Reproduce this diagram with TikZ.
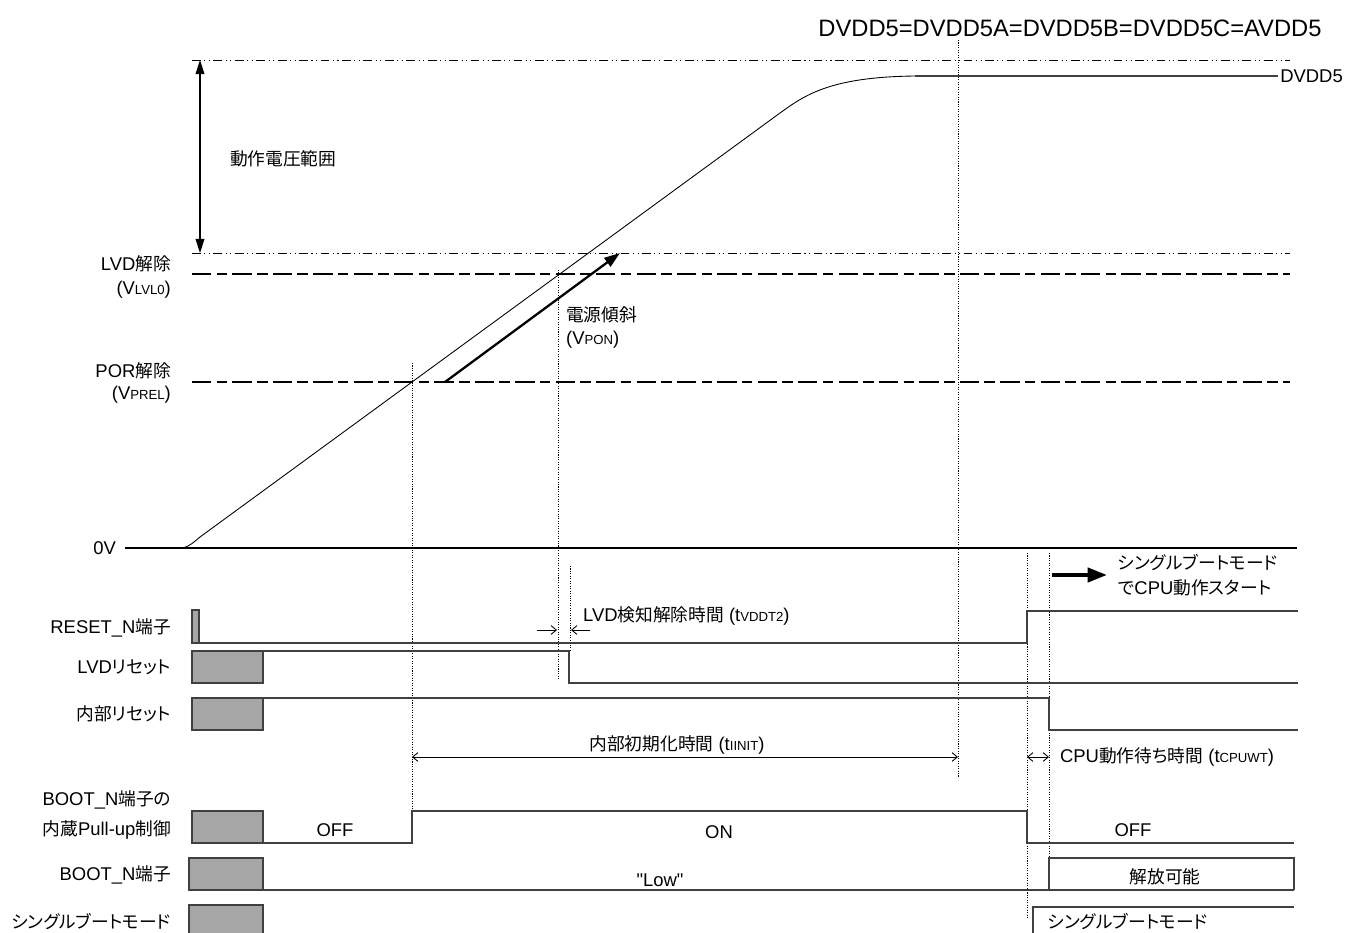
\documentclass[tikz,border=0pt]{standalone}
\usepackage{fontspec}
\setmainfont[Ligatures=TeXOff]{Liberation Sans}
\newfontfamily\jp[RawFeature=+palt,Scale=0.96]{Noto Sans CJK JP}
\usepackage{tikz}
\usetikzlibrary{arrows.meta,calc,positioning}
\definecolor{sig}{gray}{0.25}
\definecolor{boxgray}{gray}{0.65}
\newcommand{\sml}[1]{{\fontsize{7.5}{8}\selectfont #1}}

\begin{document}
\begin{tikzpicture}[x=0.02cm,y=-0.02cm,
        every node/.style={font=\fontsize{10.5}{12}\selectfont, inner sep=1pt},
        lab/.style={anchor=east},
        sigline/.style={draw=sig, line width=0.6pt},
        unk/.style={draw=sig, fill=boxgray, line width=0.6pt},
        dotline/.style={line width=0.4pt, dash pattern=on 0.6pt off 0.8pt},
        level/.style={line width=0.6pt, dash pattern=on 11pt off 3pt on 6pt off 3pt},
        dashdot/.style={line width=0.5pt, dash pattern=on 5pt off 2pt on 0.6pt off 2pt on 0.6pt off 2pt},
        span/.style={{Straight Barb[length=3pt,width=5pt]}-{Straight Barb[length=3pt,width=5pt]}, line width=0.5pt}]
        \useasboundingbox (0,0) rectangle (1349,933);
        % Title
        \node[font=\fontsize{13.5}{15}\selectfont] (rail) at (1070,28) {DVDD5=DVDD5A=DVDD5B=DVDD5C=AVDD5};
        % Voltage levels
        \draw[dashdot] (192,60) -- (1290,60);
        \draw[dashdot] (192,253) -- (1290,253);
        \draw[level] (192,274) -- (1290,274);
        \draw[level] (192,382) -- (1290,382);
        \draw[line width=0.6pt] (125,548) -- (1297,548);
        \node[lab] (zero) at (118,548) {0V};
        \node[lab] (lvdlab) at (173,264) {LVD{\jp 解除}};
        \node[lab] (lvdsub) at (173,290) {(V\sml{LVL0})};
        \node[lab] (porlab) at (173,371) {POR{\jp 解除}};
        \node[lab] (porsub) at (173,395) {(V\sml{PREL})};
        % Operating range
        \draw[{Triangle[length=8pt,width=5pt]}-{Triangle[length=8pt,width=5pt]}, line width=0.6pt] (200,60) -- (200,253);
        \node[anchor=west] (range) at (228,159) {\jp 動作電圧範囲};
        % Supply ramp
        \draw[line width=0.5pt] (183,548) .. controls (190,546) and (194,542) .. (200,537) -- (780,113)
            .. controls (805,95) and (830,77) .. (915,76);
        \draw[sigline] (915,76) -- (1278,76) node[anchor=west] (vdd) {DVDD5};
        \draw[-{Triangle[length=9pt,width=6pt]}, line width=1.3pt] (445,382) -- (620,253);
        \node[anchor=west] (slope) at (564,315) {\jp 電源傾斜};
        \node[anchor=west] (slopesub) at (564,340) {(V\sml{PON})};
        % Timing marks
        \draw[dotline] (412,363) -- (412,811);
        \draw[dotline] (558,270) -- (558,680);
        \draw[dotline] (570,566) -- (570,651);
        \draw[dotline] (958,40) -- (958,777);
        \draw[dotline] (1027,553) -- (1027,918);
        \draw[dotline] (1049,553) -- (1049,858);
        % RESET_N pin
        \node[lab] (rstlab) at (173,628) {RESET\_N{\jp 端子}};
        \draw[unk] (192,610) rectangle (199,643);
        \draw[sigline] (199,643) -- (1027,643) -- (1027,611) -- (1298,611);
        % LVD reset
        \node[lab] (lvdrst) at (173,667) {LVD{\jp リセット}};
        \draw[unk] (192,651) rectangle (263,683);
        \draw[sigline] (263,651) -- (569,651) -- (569,683) -- (1298,683);
        % Internal reset
        \node[lab] (intrst) at (173,714) {\jp 内部リセット};
        \draw[unk] (192,698) rectangle (263,730);
        \draw[sigline] (263,698) -- (1049,698) -- (1049,730) -- (1298,730);
        % Pull-up control
        \node[lab] (puplab) at (173,800) {BOOT\_N{\jp 端子の}};
        \node[lab] (pupsub) at (173,830) {{\jp 内蔵}Pull-up{\jp 制御}};
        \draw[unk] (192,811) rectangle (263,843);
        \draw[sigline] (263,843) -- (412,843) -- (412,811) -- (1027,811) -- (1027,843) -- (1294,843);
        \node (off1) at (335,830) {OFF};
        \node (on) at (719,832) {ON};
        \node (off2) at (1133,830) {OFF};
        % BOOT_N pin
        \node[lab] (bootlab) at (173,875) {BOOT\_N{\jp 端子}};
        \draw[unk] (189,858) rectangle (263,890);
        \draw[sigline] (263,890) -- (1294,890);
        \draw[sigline] (1049,890) -- (1049,858) -- (1294,858) -- (1294,890);
        \node (low) at (660,880) {"Low"};
        \node (free) at (1165,877) {\jp 解放可能};
        % Single boot mode
        \node[lab] (sbmlab) at (173,922) {\jp シングルブートモード};
        \fill[boxgray] (189,905) rectangle (263,933);
        \draw[sig, line width=0.6pt] (189,933) -- (189,905) -- (263,905) -- (263,933);
        \draw[sigline] (1033,933) -- (1033,907) -- (1294,907);
        \node[anchor=west] (sbm) at (1046,922) {\jp シングルブートモード};
        % Spans
        \draw[-{Straight Barb[length=3pt,width=5pt]}, line width=0.5pt] (537,630) -- (557,630);
        \draw[-{Straight Barb[length=3pt,width=5pt]}, line width=0.5pt] (590,630) -- (571,630);
        \node[anchor=west] (tvddt) at (581,616) {LVD{\jp 検知解除時間} (t\sml{VDDT2})};
        \draw[span] (412,757) -- (958,757);
        \node (tinit) at (677,745) {{\jp 内部初期化時間} (t\sml{IINIT})};
        \draw[span] (1027,757) -- (1049,757);
        \node[anchor=west] (tcpu) at (1058,757) {CPU{\jp 動作待ち時間} (t\sml{CPUWT})};
        % CPU start
        \draw[-{Triangle[length=11pt,width=8pt]}, line width=2.2pt] (1052,575) -- (1107,575);
        \node[anchor=west] (start) at (1116,563) {\jp シングルブートモード};
        \node[anchor=west] (startsub) at (1116,588) {{\jp で}CPU{\jp 動作スタート}};
      \end{tikzpicture}
\end{document}
